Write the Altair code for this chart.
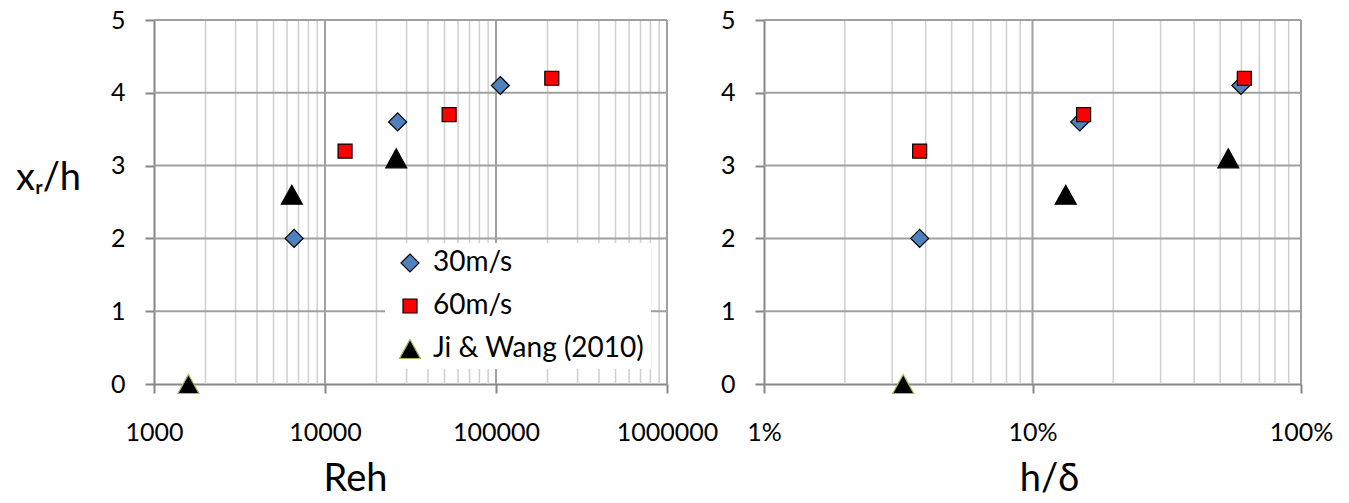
import altair as alt
import pandas as pd

# ---- data ---------------------------------------------------------------
series = ["30m/s", "60m/s", "Ji & Wang (2010)"]

reh_30 = [6600, 26600, 106000]
reh_60 = [13100, 53200, 212000]
reh_ji = [1590, 6400, 26100]

hd_30 = [0.038, 0.150, 0.597]
hd_60 = [0.038, 0.155, 0.615]
hd_ji = [0.033, 0.133, 0.536]

xr_30 = [2.0, 3.6, 4.1]
xr_60 = [3.2, 3.7, 4.2]
xr_ji = [0.0, 2.6, 3.1]

# axis / grid values
reh_major = [1000, 10000, 100000, 1000000]
hd_major = [0.01, 0.1, 1.0]
y_ticks = [0, 1, 2, 3, 4, 5]
mult = [2, 3, 4, 5, 6, 7, 8, 9]
reh_minor = [m * d for d in [1000, 10000, 100000] for m in mult]
hd_minor = [m * d for d in [0.01, 0.1] for m in mult]

FONT = "Lato"
GRID_MAJOR = "#a0a0a0"
GRID_MINOR = "#cfcfcf"
AXIS_COL = "#868686"

# marker outlines in unit coordinates (scaled by the common symbol size)
SYMBOL_SIZE = 400
DIAMOND = "M0,-0.9L0.9,0L0,0.9L-0.9,0Z"
SQUARE = "M-0.7,-0.7L0.7,-0.7L0.7,0.7L-0.7,0.7Z"
TRIANGLE = "M0,-0.95L1.05,0.95L-1.05,0.95Z"


def points_frame(xs_list):
    rows = []
    for name, xs, ys in zip(series, xs_list, [xr_30, xr_60, xr_ji]):
        for xv, yv in zip(xs, ys):
            rows.append({"series": name, "x": xv, "y": yv})
    return pd.DataFrame(rows)


def panel(xs_list, major, minor, domain, fmt, width, title, title_x,
          y_title, show_legend):
    x_enc = alt.X(
        "x:Q",
        scale=alt.Scale(type="log", domain=domain, nice=False),
        axis=alt.Axis(
            values=major, format=fmt, grid=False, title=title,
            titleFont=FONT, titleFontSize=38, titleFontWeight="normal",
            titleColor="black", titleX=title_x, titleY=95,
            titleAlign="center", titleBaseline="middle", titleAnchor="start",
            labelFont=FONT, labelFontSize=25, labelColor="black",
            labelBaseline="middle", labelPadding=39, labelFlush=False,
            labelOverlap=False, labelBound=False,
            domainColor=AXIS_COL, domainWidth=2,
            tickColor=AXIS_COL, tickWidth=2, tickSize=9,
        ),
    )
    y_axis_kw = dict(
        values=y_ticks, format="d", grid=False,
        labelFont=FONT, labelFontSize=25, labelColor="black",
        labelPadding=20, labelBaseline="middle",
        domainColor=AXIS_COL, domainWidth=2,
        tickColor=AXIS_COL, tickWidth=2, tickSize=9,
    )
    if y_title:
        y_axis_kw.update(
            title=y_title, titleFont=FONT, titleFontSize=38,
            titleFontWeight="normal", titleColor="black", titleAngle=0,
            titleX=-106, titleY=158, titleAlign="center",
            titleBaseline="middle",
        )
    else:
        y_axis_kw.update(title=None)
    y_enc = alt.Y(
        "y:Q",
        scale=alt.Scale(domain=[0, 5], nice=False, zero=False),
        axis=alt.Axis(**y_axis_kw),
    )

    minor_rules = alt.Chart(pd.DataFrame({"x": minor})).mark_rule(
        color=GRID_MINOR, strokeWidth=1.5
    ).encode(x=x_enc)
    major_rules = alt.Chart(pd.DataFrame({"x": major[1:]})).mark_rule(
        color=GRID_MAJOR, strokeWidth=2
    ).encode(x=x_enc)
    h_rules = alt.Chart(pd.DataFrame({"y": y_ticks[1:]})).mark_rule(
        color=GRID_MAJOR, strokeWidth=2
    ).encode(y=y_enc)

    if show_legend:
        legend = alt.Legend(
            title=None, orient="none", legendX=231, legendY=223,
            fillColor="white", padding=6, labelFont=FONT, labelFontSize=28,
            labelColor="black", labelLimit=400, rowPadding=15,
            labelOffset=9, symbolOffset=5, symbolStrokeWidth=1.2,
            symbolSize=SYMBOL_SIZE,
        )
    else:
        legend = None

    pts = alt.Chart(points_frame(xs_list)).mark_point(
        filled=True, opacity=1, strokeWidth=1.2, size=SYMBOL_SIZE
    ).encode(
        x=x_enc,
        y=y_enc,
        shape=alt.Shape(
            "series:N",
            scale=alt.Scale(domain=series, range=[DIAMOND, SQUARE, TRIANGLE]),
            legend=legend,
        ),
        fill=alt.Fill(
            "series:N",
            scale=alt.Scale(domain=series,
                            range=["#4f81bd", "#ff0000", "#000000"]),
            legend=legend,
        ),
        stroke=alt.condition(
            "datum.series === 'Ji & Wang (2010)' && datum.y > 0",
            alt.value("#000000"),
            alt.Stroke(
                "series:N",
                scale=alt.Scale(domain=series,
                                range=["#000000", "#000000", "#9bbb59"]),
                legend=legend,
            ),
        ),
    )

    return alt.layer(minor_rules, major_rules, h_rules, pts).properties(
        width=width, height=364
    )


left = panel([reh_30, reh_60, reh_ji], reh_major, reh_minor,
             [1000, 1000000], "d", 513, "Reh", 201, "xᵣ/h", True)
right = panel([hd_30, hd_60, hd_ji], hd_major, hd_minor,
              [0.01, 1.0], ".0%", 537, "h/δ", 285, None, False)

chart = alt.hconcat(left, right, spacing=97, bounds="flush").resolve_scale(
    x="independent", y="independent", shape="independent",
    fill="independent", stroke="independent",
).properties(
    padding={"left": 15, "top": 8, "right": 5, "bottom": 0},
    background="white",
).configure_view(strokeWidth=0)

chart.save("out.html", embed_options={"renderer": "svg", "actions": False})
